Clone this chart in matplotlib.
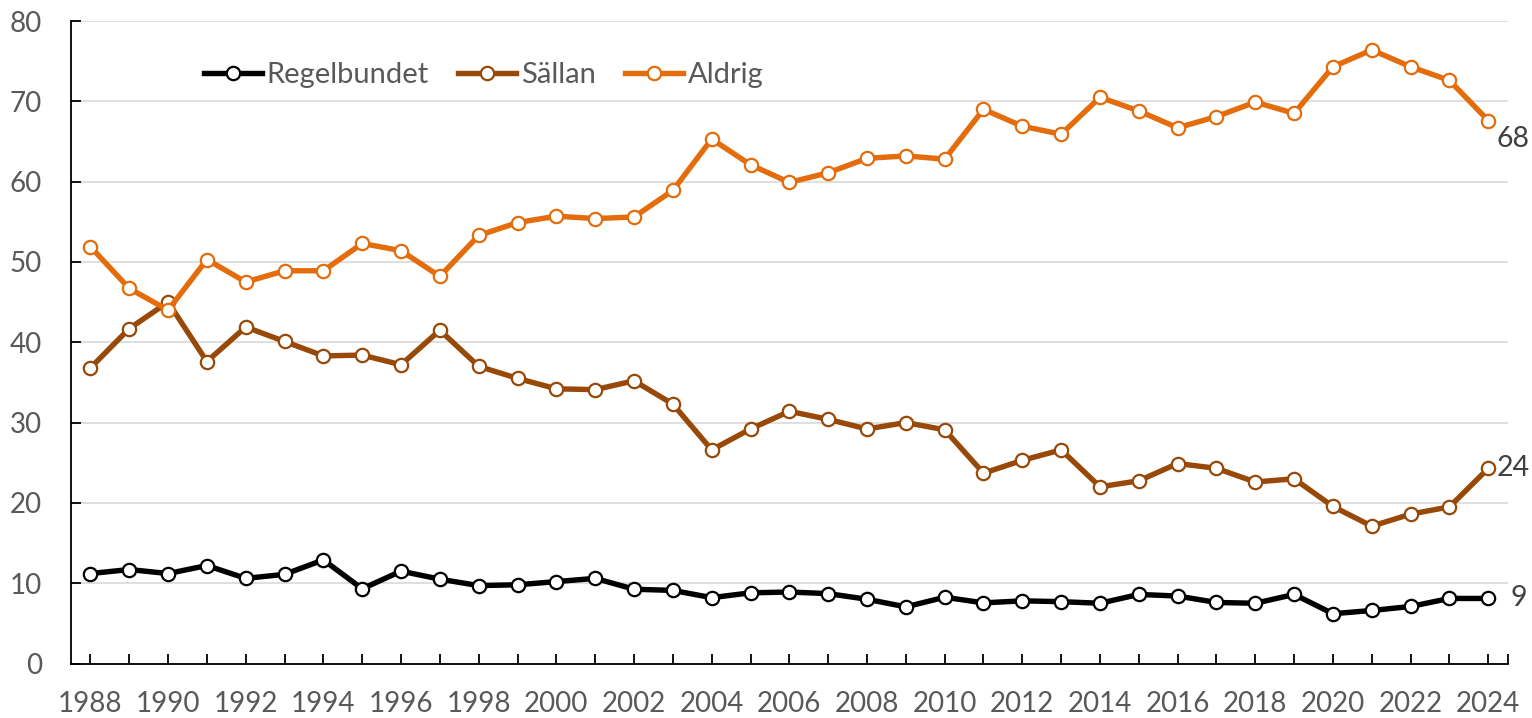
import numpy as np
import matplotlib
matplotlib.use("Agg")
import matplotlib.pyplot as plt

plt.rcParams['font.family'] = ['Lato', 'DejaVu Sans']

# data
years = list(range(1988, 2025))
regelbundet = [11.2, 11.7, 11.2, 12.2, 10.6, 11.1, 12.9, 9.3, 11.5, 10.5, 9.7, 9.8, 10.2,
               10.6, 9.25, 9.1, 8.2, 8.8, 8.9, 8.7, 8.0, 7.05, 8.25, 7.55, 7.8,
               7.7, 7.5, 8.6, 8.4, 7.6, 7.5, 8.6, 6.2, 6.6, 7.1, 8.1, 8.1]
sallan = [36.8, 41.7, 45.0, 37.6, 41.9, 40.1, 38.3, 38.4, 37.2, 41.5, 37.0, 35.5, 34.2,
          34.1, 35.2, 32.3, 26.6, 29.2, 31.4, 30.4, 29.2, 30.0, 29.1, 23.7, 25.3,
          26.6, 22.0, 22.75, 24.9, 24.3, 22.6, 23.0, 19.55, 17.1, 18.6, 19.5, 24.3]
aldrig = [51.9, 46.7, 44.0, 50.3, 47.5, 48.9, 48.9, 52.3, 51.4, 48.2, 53.3, 54.9, 55.7,
          55.4, 55.6, 58.9, 65.3, 62.1, 59.9, 61.1, 62.9, 63.2, 62.8, 69.0, 66.9,
          65.9, 70.5, 68.8, 66.7, 68.1, 69.9, 68.5, 74.3, 76.4, 74.3, 72.6, 67.6]
series_names = ['Regelbundet', 'Sällan', 'Aldrig']
end_labels = ['9', '24', '68']
yticks = [0, 10, 20, 30, 40, 50, 60, 70, 80]

colors = ['#000000', '#984807', '#E46C0A']
label_offsets = [(16, 0), (6, 0), (6, -13)]  # points, right of last marker

fig = plt.figure(figsize=(15.32, 7.18), dpi=100)
ax = fig.add_axes([71 / 1532, 1 - 663.5 / 718, (1507.7 - 71) / 1532, (663.5 - 21) / 718])

lines = []
for vals, name, col in zip([regelbundet, sallan, aldrig], series_names, colors):
    ln, = ax.plot(years, vals, color=col, lw=3.9, marker='o', ms=9.6,
                  mfc='white', mec=col, mew=1.6, label=name, zorder=3,
                  solid_joinstyle='round')
    lines.append(ln)

# end-of-series value labels
for vals, txt, off in zip([regelbundet, sallan, aldrig], end_labels, label_offsets):
    ax.annotate(txt, xy=(years[-1], vals[-1]), xytext=off, textcoords='offset points',
                ha='left', va='center', fontsize=20.5, color='#404040')

ax.set_xlim(years[0] - 0.5, years[-1] + 0.5)
ax.set_ylim(0, 80)

ax.set_yticks(yticks)
ax.set_xticks(years + [years[-1] + 0.5])
ax.set_xticklabels([str(y) if (y - years[0]) % 2 == 0 else '' for y in years] + [''])

ax.grid(axis='y', color='#D9D9D9', lw=1.2, zorder=0)
ax.set_axisbelow(True)
for s in ['top', 'right']:
    ax.spines[s].set_visible(False)
for s in ['left', 'bottom']:
    ax.spines[s].set_linewidth(1.3)
    ax.spines[s].set_color('black')

ax.tick_params(axis='both', direction='in', length=7, width=1.3, color='black',
               labelsize=20, labelcolor='#595959')
ax.tick_params(axis='x', pad=20)
ax.tick_params(axis='y', pad=21)

leg = fig.legend(handles=lines, loc='center left', bbox_to_anchor=(204 / 1532, 1 - 75 / 718),
                 ncol=3, frameon=False, fontsize=21, handlelength=2.0,
                 handletextpad=0.15, columnspacing=1.0, borderpad=0, borderaxespad=0)
for t in leg.get_texts():
    t.set_color('#595959')

fig.savefig('out.png', dpi=100)
